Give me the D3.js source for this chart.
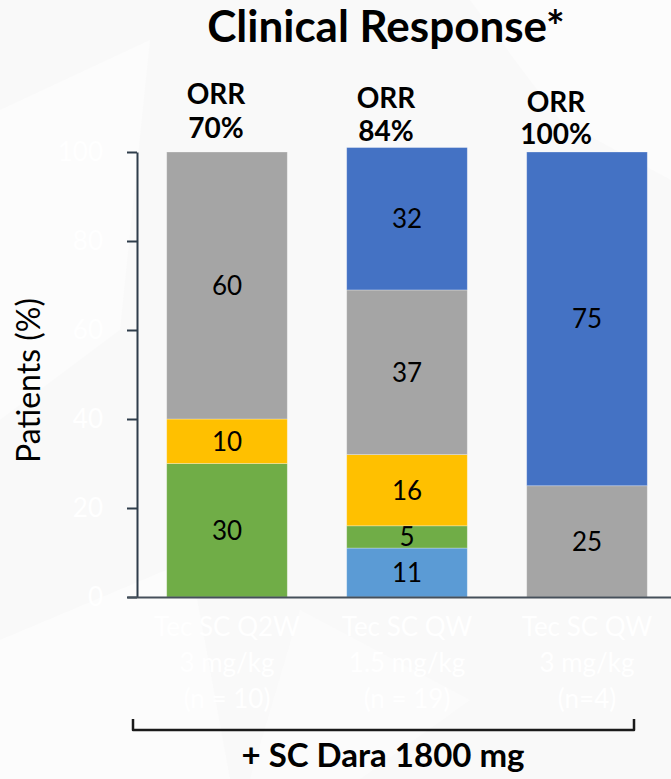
<!DOCTYPE html>
<html>
<head>
<meta charset="utf-8">
<script src="https://cdn.jsdelivr.net/npm/d3@7"></script>
<style>
  html, body { margin: 0; padding: 0; background: #f9f9f9; }
  svg { display: block; }
  text { font-family: Lato, "Open Sans", sans-serif; }
</style>
</head>
<body>
<svg id="chart" width="671" height="779"></svg>
<script>
// Treatment arms (three text lines each)
const arms = ["Tec SC Q2W", "Tec SC QW", "Tec SC QW"];
const armDoses = ["3 mg/kg", "1.5 mg/kg", "3 mg/kg"];
const armSizes = ["(n = 10)", "(n = 19)", "(n=4)"];

// Overall response rate per arm
const orr = [70, 84, 100];

// Response categories, bottom of stack to top
const responses = ["PD", "SD", "PR", "VGPR", "CR"];
const responseColors = ["#5b9bd5", "#70ad47", "#ffc000", "#a5a5a5", "#4472c4"];

// Percent of patients per category, one value per arm
const pd   = [0, 11, 0];
const sd   = [30, 5, 0];
const pr   = [10, 16, 0];
const vgpr = [60, 37, 25];
const cr   = [0, 32, 75];

const yTicks = [0, 20, 40, 60, 80, 100];

const seriesValues = [pd, sd, pr, vgpr, cr];
const rows = arms.map((a, i) => {
  const r = { key: i };
  responses.forEach((name, s) => { r[name] = seriesValues[s][i]; });
  return r;
});

const svg = d3.select("#chart");
const W = 671, H = 779;

// faint background shapes
const bg = svg.append("g");
bg.append("rect").attr("width", W).attr("height", H).attr("fill", "#f9f9f9");
bg.append("path").attr("d", "M0,110 L150,40 L120,330 L0,420 Z").attr("fill", "#fcfcfc");
bg.append("path").attr("d", "M0,640 L190,560 L230,779 L0,779 Z").attr("fill", "#fcfcfc");
bg.append("path").attr("d", "M300,610 L470,700 L360,779 L250,779 Z").attr("fill", "#fbfbfb");
bg.append("path").attr("d", "M470,0 L671,0 L671,180 L560,120 Z").attr("fill", "#fcfcfc");

const plotTop = 152, plotBottom = 597, axisX = 137;

const x = d3.scaleBand()
  .domain(rows.map(r => r.key))
  .range([axisX, 677])
  .paddingInner(0.33)
  .paddingOuter(0.165);

const y = d3.scaleLinear().domain([0, 100]).range([plotBottom, plotTop]);

const stack = d3.stack().keys(responses);
const layers = stack(rows);

// stacked bars
const layerG = svg.append("g")
  .selectAll("g")
  .data(layers)
  .join("g")
  .attr("fill", (d, i) => responseColors[i]);

layerG.selectAll("rect")
  .data(d => d.filter(s => s[1] - s[0] > 0))
  .join("rect")
  .attr("x", d => x(d.data.key))
  .attr("width", x.bandwidth())
  .attr("y", d => y(d[1]))
  .attr("height", d => y(d[0]) - y(d[1]))
  .attr("stroke", "rgba(255,255,255,0.35)")
  .attr("stroke-width", 0.8);

// segment value labels
layerG.selectAll("text")
  .data(d => d.filter(s => s[1] - s[0] > 0).map(s => ({ s, key: d.key })))
  .join("text")
  .attr("x", d => x(d.s.data.key) + x.bandwidth() / 2)
  .attr("y", d => (y(d.s[0]) + y(d.s[1])) / 2)
  .attr("dy", "0.36em")
  .attr("text-anchor", "middle")
  .attr("font-size", 26)
  .attr("fill", "#000")
  .text(d => d.s.data[d.key]);

// y axis
const yAxis = svg.append("g")
  .attr("transform", `translate(${axisX},0)`)
  .call(d3.axisLeft(y).tickValues(yTicks).tickSize(10).tickSizeOuter(0).tickPadding(24));
yAxis.select(".domain").attr("stroke", "#2f3d4b").attr("stroke-width", 2);
yAxis.selectAll(".tick line").attr("stroke", "#2f3d4b").attr("stroke-width", 2);
yAxis.selectAll(".tick text")
  .attr("fill", "#ffffff")
  .attr("font-size", 26)
  .attr("font-family", "Lato, sans-serif");

// x axis baseline
const xAxis = svg.append("g")
  .attr("transform", `translate(0,${plotBottom})`)
  .call(d3.axisBottom(d3.scaleLinear().domain([0, 1]).range([127, W])).tickValues([]).tickSizeOuter(0));
xAxis.select(".domain").attr("stroke", "#46505b").attr("stroke-width", 2);

// category labels, one text block per arm
const catG = svg.append("g").attr("fill", "#ffffff").attr("font-size", 26).attr("text-anchor", "middle");
rows.forEach((r, i) => {
  const cx = x(r.key) + x.bandwidth() / 2;
  const t = catG.append("text").attr("x", cx).attr("y", 636);
  [arms[i], armDoses[i], armSizes[i]].forEach((line, j) => {
    t.append("tspan").attr("x", cx).attr("dy", j === 0 ? 0 : 36).text(line);
  });
});

// ORR headers
const orrG = svg.append("g").attr("font-weight", 700).attr("font-size", 28).attr("text-anchor", "middle").attr("fill", "#000");
rows.forEach((r, i) => {
  const cx = x(r.key) + x.bandwidth() / 2 - 11 - 10 * i;
  orrG.append("text").attr("x", cx).attr("y", 104 + 4 * i).text("ORR");
  orrG.append("text").attr("x", cx).attr("y", 138 + 3 * i).text(orr[i] + "%");
});

// title
svg.append("text")
  .attr("x", 386).attr("y", 42)
  .attr("text-anchor", "middle")
  .attr("font-weight", 700)
  .attr("font-size", 44)
  .text("Clinical Response*");

// y axis title
svg.append("text")
  .attr("transform", `translate(40,${(plotTop + plotBottom) / 2 + 6}) rotate(-90)`)
  .attr("text-anchor", "middle")
  .attr("font-size", 32)
  .text("Patients (%)");

// bracket grouping the arms
svg.append("path")
  .attr("d", "M133,719 V730 H634 V719")
  .attr("fill", "none")
  .attr("stroke", "#1a1a1a")
  .attr("stroke-width", 2.5)
  .attr("stroke-linejoin", "round");

svg.append("text")
  .attr("x", 383).attr("y", 767)
  .attr("text-anchor", "middle")
  .attr("font-weight", 700)
  .attr("font-size", 33)
  .text("+ SC Dara 1800 mg");
</script>
</body>
</html>
